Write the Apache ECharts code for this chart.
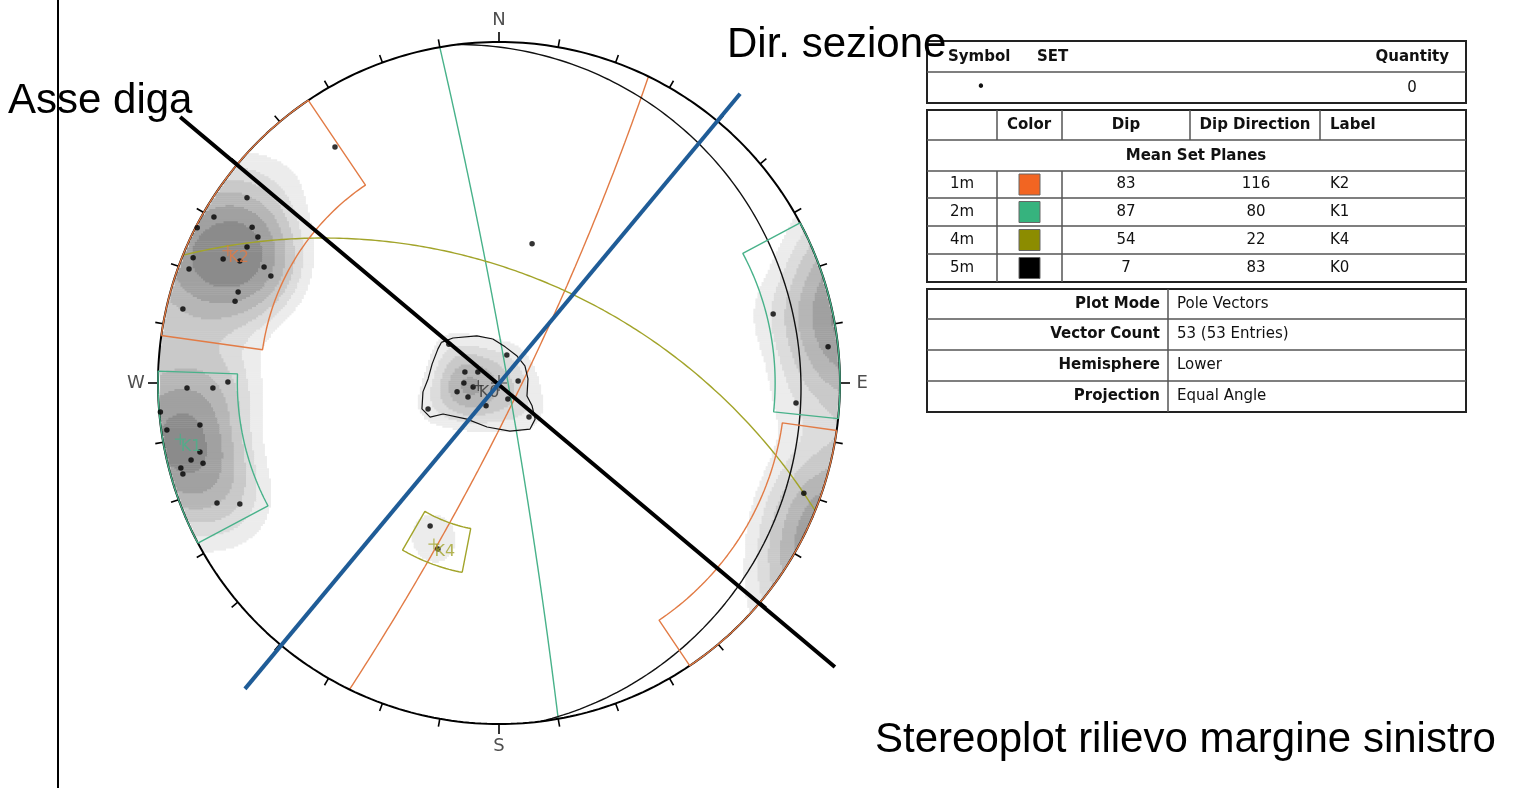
<!DOCTYPE html>
<html>
<head>
<meta charset="UTF-8">
<title>Stereoplot rilievo margine sinistro</title>
<script src="https://cdn.jsdelivr.net/npm/echarts@6/dist/echarts.min.js"></script>
<style>
    html, body { margin: 0; padding: 0; background: #fff; }
    #chart { width: 1526px; height: 788px; }
</style>
</head>
<body>
<div id="chart"></div>
<script>
// ---- dati ----
var setIds = ['1m', '2m', '4m', '5m'];
var setLabels = ['K2', 'K1', 'K4', 'K0'];
var setDips = [83, 87, 54, 7];
var setDipDirs = [116, 80, 22, 83];
var setColors = ['#F26522', '#36B37E', '#8C8C00', '#000000'];
var planeColors = ['#E27B45', '#48B28A', '#A2A42A', '#111111'];

var infoKeys = ['Plot Mode', 'Vector Count', 'Hemisphere', 'Projection'];
var infoValues = ['Pole Vectors', '53 (53 Entries)', 'Lower', 'Equal Angle'];

// poli: posizione sul reticolo (raggio primitivo = 1, x = Est, y = Nord)
var polesK2 = [
    [-0.481, 0.692], [-0.739, 0.543], [-0.836, 0.487], [-0.724, 0.457], [-0.707, 0.428],
    [-0.885, 0.455], [-0.739, 0.399], [-0.809, 0.364], [-0.760, 0.358], [-0.897, 0.367],
    [-0.909, 0.334], [-0.689, 0.340], [-0.669, 0.314], [-0.765, 0.267], [-0.774, 0.240],
    [-0.927, 0.217]
];
var polesK1 = [
    [-0.795, 0.003], [-0.915, -0.015], [-0.839, -0.015], [-0.993, -0.085], [-0.974, -0.138],
    [-0.877, -0.123], [-0.877, -0.202], [-0.903, -0.226], [-0.868, -0.235], [-0.933, -0.249],
    [-0.927, -0.267], [-0.827, -0.352], [-0.760, -0.355]
];
var polesK0 = [
    [-0.147, 0.114], [0.023, 0.082], [-0.100, 0.032], [-0.062, 0.032], [-0.103, 0.000],
    [-0.076, -0.012], [-0.123, -0.026], [-0.091, -0.041], [0.056, 0.006], [0.026, -0.047],
    [-0.038, -0.067], [-0.208, -0.076], [0.088, -0.100]
];
var polesOther = [
    [0.097, 0.408], [0.804, 0.202], [0.965, 0.106], [0.871, -0.059], [0.894, -0.323],
    [-0.202, -0.419], [-0.179, -0.487]
];

// finestre dei set: [trend min, trend max, plunge min, plunge max]
var windowK2 = [[278, 326, 0, 20], [98, 146, 0, 10]];
var windowK1 = [[242, 272, 0, 15], [62, 96, 0, 12]];
var windowK4 = [[191, 210, 31, 43]];
// finestra K0 disegnata a mano (poligono)
var windowK0 = [
    [-0.169, 0.119], [-0.135, 0.132], [-0.065, 0.138], [-0.018, 0.129], [0.018, 0.106],
    [0.053, 0.079], [0.076, 0.050], [0.085, 0.012], [0.082, -0.038], [0.097, -0.067],
    [0.106, -0.106], [0.091, -0.135], [0.032, -0.141], [-0.035, -0.129], [-0.094, -0.106],
    [-0.164, -0.091], [-0.202, -0.100], [-0.226, -0.076], [-0.223, -0.026], [-0.208, 0.012],
    [-0.196, 0.056], [-0.179, 0.100], [-0.169, 0.119]
];

// linee di riferimento
var asseDiga = [[-0.935, 0.780], [0.985, -0.833]];
var dirSezione = [[-0.745, -0.897], [0.707, 0.848]];

var cardinals = ['N', 'E', 'S', 'W'];
var cardinalAz = [0, 90, 180, 270];

// ---- geometria stereografica (equal angle, emisfero inferiore) ----
var RAD = Math.PI / 180;
function tpToXY(trend, plunge) {
    var r = Math.tan((90 - plunge) / 2 * RAD);
    return [r * Math.sin(trend * RAD), r * Math.cos(trend * RAD)];
}
function vecToXY(v) {
    if (v[2] > 0) v = [-v[0], -v[1], -v[2]];
    return [v[0] / (1 - v[2]), v[1] / (1 - v[2])];
}
function xyToVec(x, y) {
    var r2 = x * x + y * y;
    return [2 * x / (1 + r2), 2 * y / (1 + r2), -(1 - r2) / (1 + r2)];
}
function greatCircle(dip, dipDir) {
    var a = dipDir * RAD, d = dip * RAD;
    var s = [Math.sin(a - Math.PI / 2), Math.cos(a - Math.PI / 2), 0];
    var dv = [Math.cos(d) * Math.sin(a), Math.cos(d) * Math.cos(a), -Math.sin(d)];
    var pts = [];
    for (var i = 0; i <= 180; i++) {
        var c = Math.cos(i * RAD), sn = Math.sin(i * RAD);
        pts.push(vecToXY([c * s[0] + sn * dv[0], c * s[1] + sn * dv[1], sn * dv[2]]));
    }
    return pts;
}
function windowOutline(w) {
    var pts = [], t;
    for (t = w[0]; t < w[1]; t += 1) pts.push(tpToXY(t, w[2]));
    pts.push(tpToXY(w[1], w[2]));
    for (t = w[1]; t > w[0]; t -= 1) pts.push(tpToXY(t, w[3]));
    pts.push(tpToXY(w[0], w[3]));
    pts.push(tpToXY(w[0], w[2]));
    return pts;
}

var allPoles = polesK2.concat(polesK1, polesK0, polesOther);

// ---- densità (Fisher, assiale) ----
var kappa = 65;
var contourLevels = [1.3, 2.2, 3.2, 4.4, 5.8, 7.4];
var contourColors = ['#ececec', '#dcdcdc', '#c9c9c9', '#b6b6b6', '#a1a1a1', '#8b8b8b'];
var poleVecs = allPoles.map(function (p) { return xyToVec(p[0], p[1]); });
var step = 0.006, half = step / 2, nCell = Math.round(2 / step);
var densityRuns = [];
for (var j = 0; j < nCell; j++) {
    var y = -1 + half + j * step;
    var run = null;
    for (var i = 0; i <= nCell; i++) {
        var x = -1 + half + i * step;
        var lvl = -1;
        if (i < nCell && x * x + y * y < (1 - half) * (1 - half)) {
            var u = xyToVec(x, y), dens = 0;
            for (var k = 0; k < poleVecs.length; k++) {
                var v = poleVecs[k];
                var c = Math.abs(u[0] * v[0] + u[1] * v[1] + u[2] * v[2]);
                if (c > 0.9) dens += Math.exp(kappa * (c - 1));
            }
            for (var l = contourLevels.length - 1; l >= 0; l--) {
                if (dens >= contourLevels[l]) { lvl = l; break; }
            }
        }
        if (run && run[3] !== lvl) { densityRuns.push(run); run = null; }
        if (lvl >= 0) {
            if (!run) run = [x, x, y, lvl];
            else run[1] = x;
        }
    }
}

// ---- serie ----
var series = [];
series.push({
    type: 'custom', coordinateSystem: 'cartesian2d', silent: true, z: 1,
    data: densityRuns,
    renderItem: function (params, api) {
        var p0 = api.coord([api.value(0) - half, api.value(2) + half]);
        var p1 = api.coord([api.value(1) + half, api.value(2) - half]);
        return {
            type: 'rect',
            shape: { x: p0[0], y: p0[1], width: p1[0] - p0[0] + 0.5, height: p1[1] - p0[1] + 0.5 },
            style: { fill: contourColors[api.value(3)] }
        };
    }
});

function lineSeries(data, color, width, z) {
    return {
        type: 'line', data: data, symbol: 'none', silent: true, clip: false, z: z,
        lineStyle: { color: color, width: width }, animation: false
    };
}

// piani medi
for (var s = 0; s < setDips.length; s++) {
    series.push(lineSeries(greatCircle(setDips[s], setDipDirs[s]), planeColors[s], 1.4, 2));
}

// cerchio primitivo
var primitive = [];
for (var a = 0; a <= 360; a++) primitive.push(tpToXY(a, 0));
series.push(lineSeries(primitive, '#000', 2, 3));

// tacche ogni 10 gradi
var tickAz = [];
for (var t = 0; t < 360; t += 10) tickAz.push([t, 0]);
series.push({
    type: 'custom', coordinateSystem: 'cartesian2d', silent: true, z: 3, clip: false,
    data: tickAz,
    renderItem: function (params, api) {
        var az = api.value(0), ar = az * RAD;
        var p = api.coord([Math.sin(ar), Math.cos(ar)]);
        var len = az % 90 === 0 ? 10 : 8;
        return {
            type: 'line',
            shape: { x1: p[0], y1: p[1], x2: p[0] + len * Math.sin(ar), y2: p[1] - len * Math.cos(ar) },
            style: { stroke: '#000', lineWidth: 1.6 }
        };
    }
});

// finestre
windowK2.forEach(function (w) { series.push(lineSeries(windowOutline(w), planeColors[0], 1.4, 4)); });
windowK1.forEach(function (w) { series.push(lineSeries(windowOutline(w), planeColors[1], 1.4, 4)); });
windowK4.forEach(function (w) { series.push(lineSeries(windowOutline(w), planeColors[2], 1.4, 4)); });
series.push(lineSeries(windowK0, '#111', 1.2, 4));

// poli
series.push({
    type: 'scatter', data: allPoles, symbol: 'circle', symbolSize: 5.5, clip: false, z: 5,
    itemStyle: { color: '#000' }, silent: true
});

// poli medi dei set
var plusPath = 'path://M0,-1L0,1M-1,0L1,0';
series.push({
    type: 'scatter', symbol: plusPath, symbolSize: 11, clip: false, z: 6, silent: true,
    data: setDips.map(function (d, i) {
        return {
            name: setLabels[i],
            value: tpToXY(setDipDirs[i] + 180, 90 - d),
            itemStyle: { color: 'none', borderColor: i === 3 ? '#333' : planeColors[i], borderWidth: 1.2 },
            label: { color: i === 3 ? '#333' : planeColors[i] }
        };
    }),
    label: {
        show: true, formatter: '{b}', position: [8.5, 15.5], align: 'left', verticalAlign: 'middle',
        fontFamily: 'DejaVu Sans', fontSize: 16
    }
});

// centro
series.push({
    type: 'scatter', symbol: plusPath, symbolSize: 16, data: [[0, 0]], z: 6, silent: true,
    itemStyle: { color: 'none', borderColor: '#222', borderWidth: 1.2 }
});

// punti cardinali
series.push({
    type: 'scatter', symbolSize: 0, clip: false, z: 6, silent: true,
    data: cardinals.map(function (n, i) {
        var p = tpToXY(cardinalAz[i], 0);
        return { name: n, value: [p[0] * 1.065, p[1] * 1.065] };
    }),
    label: {
        show: true, formatter: '{b}', position: 'inside', color: '#222',
        fontFamily: 'DejaVu Sans', fontSize: 18
    }
});

// asse diga e direzione sezione
series.push(lineSeries(asseDiga, '#000', 4, 8));
series.push(lineSeries(dirSezione, '#1F5C97', 4, 8));

// ---- tabella legenda ----
var graphic = [];
var font = '15px "DejaVu Sans"', fontB = 'bold 15px "DejaVu Sans"';
function gRect(x, y, w, h) {
    graphic.push({ type: 'rect', shape: { x: x, y: y, width: w, height: h },
        style: { fill: 'none', stroke: '#222', lineWidth: 2 }, z: 10 });
}
function gLine(x1, y1, x2, y2) {
    graphic.push({ type: 'line', shape: { x1: x1, y1: y1, x2: x2, y2: y2 },
        style: { stroke: '#555', lineWidth: 1.5 }, z: 10 });
}
function gText(txt, x, y, f, align, color) {
    graphic.push({ type: 'text', x: x, y: y, z: 11,
        style: { text: txt, font: f, fill: color || '#111', align: align || 'left', verticalAlign: 'middle' } });
}
var tL = 927, tR = 1466, tW = tR - tL;
// tabella 1
gRect(tL, 41, tW, 62);
gLine(tL, 72, tR, 72);
gText('Symbol', 948, 57, fontB);
gText('SET', 1037, 57, fontB);
gText('Quantity', 1449, 57, fontB, 'right');
gText('\u2022', 981, 88, font, 'center');
gText('0', 1412, 88, font, 'center');
// tabella 2
var rowY = [171, 198, 226, 254, 282];
gRect(tL, 110, tW, 172);
gLine(tL, 140, tR, 140);
rowY.slice(0, 4).forEach(function (yy) { gLine(tL, yy, tR, yy); });
[997, 1062].forEach(function (xx) { gLine(xx, 110, xx, 140); gLine(xx, 171, xx, 282); });
[1190, 1320].forEach(function (xx) { gLine(xx, 110, xx, 140); });
gText('Color', 1029, 125, fontB, 'center');
gText('Dip', 1126, 125, fontB, 'center');
gText('Dip Direction', 1255, 125, fontB, 'center');
gText('Label', 1330, 125, fontB);
gText('Mean Set Planes', 1196, 156, fontB, 'center');
for (var r = 0; r < setIds.length; r++) {
    var yc = (rowY[r] + rowY[r + 1]) / 2;
    gText(setIds[r], 962, yc, font, 'center');
    graphic.push({ type: 'rect', shape: { x: 1019, y: yc - 10.5, width: 21, height: 21 },
        style: { fill: setColors[r], stroke: '#666', lineWidth: 1 }, z: 11 });
    gText(String(setDips[r]), 1126, yc, font, 'center');
    gText(String(setDipDirs[r]), 1256, yc, font, 'center');
    gText(setLabels[r], 1330, yc, font);
}
// tabella 3
var infoY = [289, 319, 350, 381, 412];
gRect(tL, 289, tW, 123);
infoY.slice(1, 4).forEach(function (yy) { gLine(tL, yy, tR, yy); });
gLine(1168, 289, 1168, 412);
for (var q = 0; q < infoKeys.length; q++) {
    var yq = (infoY[q] + infoY[q + 1]) / 2;
    gText(infoKeys[q], 1160, yq, fontB, 'right');
    gText(infoValues[q], 1177, yq, font);
}

// testi grandi e linea verticale
var bigFont = '42px "Liberation Sans"';
gText('Asse diga', 8, 101, bigFont, 'left', '#000');
gText('Dir. sezione', 727, 45, bigFont, 'left', '#000');
gText('Stereoplot rilievo margine sinistro', 875, 740, bigFont, 'left', '#000');
graphic.push({ type: 'line', shape: { x1: 58, y1: 0, x2: 58, y2: 788 },
    style: { stroke: '#000', lineWidth: 2 }, z: 12 });

var chart = echarts.init(document.getElementById('chart'));
chart.setOption({
    animation: false,
    backgroundColor: '#fff',
    grid: { left: 158, top: 42, width: 682, height: 682 },
    xAxis: { type: 'value', min: -1, max: 1, show: false },
    yAxis: { type: 'value', min: -1, max: 1, show: false },
    series: series,
    graphic: graphic
});
</script>
</body>
</html>
